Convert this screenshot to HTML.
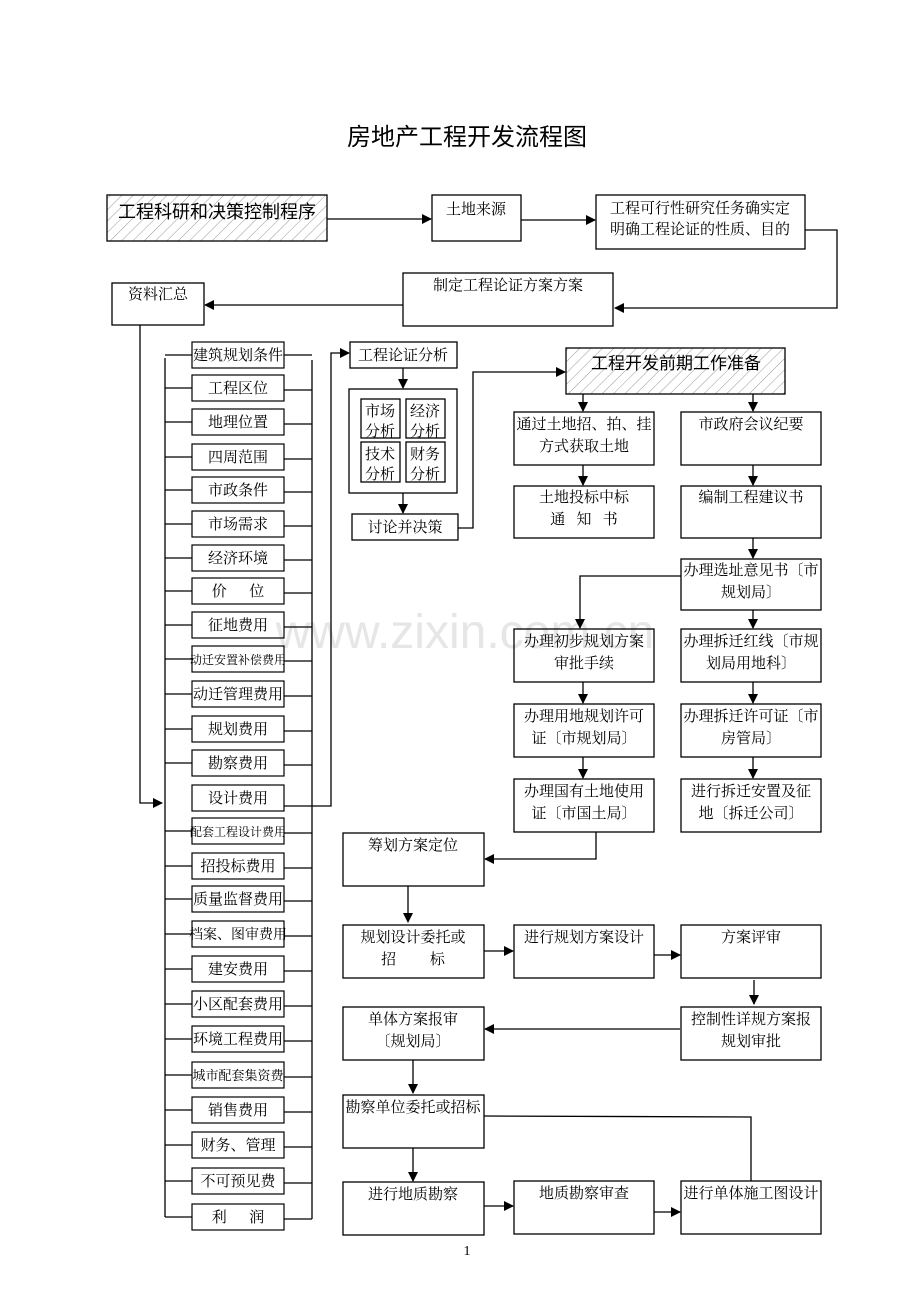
<!DOCTYPE html>
<html><head><meta charset="utf-8"><style>
html,body{margin:0;padding:0;background:#fff;}
svg{display:block;}
text{font-family:"Liberation Serif","Noto Serif CJK SC",serif;font-size:15px;fill:#000;}
</style></head><body>
<svg width="920" height="1302" viewBox="0 0 920 1302" xmlns="http://www.w3.org/2000/svg">
<defs>
<pattern id="h" patternUnits="userSpaceOnUse" width="8" height="8" patternTransform="rotate(45)">
<rect width="8" height="8" fill="#fff"/><line x1="0" y1="0" x2="0" y2="8" stroke="#999" stroke-width="1"/>
</pattern>
<marker id="a" markerWidth="10" markerHeight="10" refX="9" refY="5" orient="auto" markerUnits="userSpaceOnUse">
<path d="M0,0 L10,5 L0,10 Z" fill="#000"/></marker>
</defs>
<text x="467" y="145" text-anchor="middle" style="font-size:24px;font-family:'Liberation Sans','Noto Sans CJK SC',sans-serif">房地产工程开发流程图</text>
<text x="465" y="648" text-anchor="middle" style="font-size:48px;fill:#e6e6e6;font-family:'Liberation Sans',sans-serif">www.zixin.com.cn</text>

<g fill="none" stroke="#000" stroke-width="1.3">
<rect x="107" y="195" width="220" height="46" fill="url(#h)"/>
<rect x="566" y="348" width="219" height="46" fill="url(#h)"/>
<rect x="432" y="195" width="89" height="46"/>
<rect x="596" y="195" width="209" height="54"/>
<rect x="403" y="273" width="210" height="53"/>
<rect x="112" y="283" width="92" height="42"/>
<rect x="350" y="342" width="107" height="26"/>
<rect x="349" y="389" width="108" height="104"/>
<rect x="361" y="399" width="39" height="39"/><rect x="406" y="399" width="39" height="39"/>
<rect x="361" y="442" width="39" height="40"/><rect x="406" y="442" width="39" height="40"/>
<rect x="352" y="514" width="106" height="26"/>
<rect x="514" y="412" width="140" height="53"/><rect x="681" y="412" width="140" height="53"/>
<rect x="514" y="486" width="140" height="52"/><rect x="681" y="486" width="140" height="52"/>
<rect x="681" y="559" width="140" height="51"/>
<rect x="514" y="629" width="140" height="53"/><rect x="681" y="629" width="140" height="53"/>
<rect x="514" y="704" width="140" height="53"/><rect x="681" y="704" width="140" height="53"/>
<rect x="514" y="779" width="140" height="53"/><rect x="681" y="779" width="140" height="53"/>
<rect x="343" y="833" width="141" height="53"/>
<rect x="343" y="925" width="141" height="53"/><rect x="514" y="925" width="140" height="53"/><rect x="681" y="925" width="140" height="53"/>
<rect x="343" y="1007" width="141" height="53"/><rect x="681" y="1007" width="140" height="53"/>
<rect x="343" y="1095" width="141" height="53"/>
<rect x="343" y="1182" width="141" height="53"/><rect x="514" y="1181" width="140" height="53"/><rect x="681" y="1181" width="140" height="53"/>

<!-- connectors -->
<path d="M327,219 H431" marker-end="url(#a)"/>
<path d="M521,220 H595" marker-end="url(#a)"/>
<path d="M805,230 H837 V308 H615" marker-end="url(#a)"/>
<path d="M403,305 H205" marker-end="url(#a)"/>
<path d="M140,325 V803 H162" marker-end="url(#a)"/>
<path d="M165,358 V1217"/>
<path d="M312,360 V1219"/>
<path d="M312,806 H331 V353 H349" marker-end="url(#a)"/>
<path d="M403,368 V388" marker-end="url(#a)"/>
<path d="M403,493 V513" marker-end="url(#a)"/>
<path d="M458,528 H473 V372 H565" marker-end="url(#a)"/>
<path d="M583,394 V411" marker-end="url(#a)"/>
<path d="M753,394 V411" marker-end="url(#a)"/>
<path d="M583,465 V485" marker-end="url(#a)"/>
<path d="M753,465 V485" marker-end="url(#a)"/>
<path d="M753,538 V558" marker-end="url(#a)"/>
<path d="M681,576 H580 V628" marker-end="url(#a)"/>
<path d="M753,610 V628" marker-end="url(#a)"/>
<path d="M583,682 V703" marker-end="url(#a)"/>
<path d="M753,682 V703" marker-end="url(#a)"/>
<path d="M583,757 V778" marker-end="url(#a)"/>
<path d="M753,757 V778" marker-end="url(#a)"/>
<path d="M596,832 V859 H485" marker-end="url(#a)"/>
<path d="M408,886 V922" marker-end="url(#a)"/>
<path d="M484,951 H513" marker-end="url(#a)"/>
<path d="M654,955 H680" marker-end="url(#a)"/>
<path d="M754,980 V1004" marker-end="url(#a)"/>
<path d="M680,1029 H485" marker-end="url(#a)"/>
<path d="M413,1060 V1093" marker-end="url(#a)"/>
<path d="M484,1116 L751,1117 V1181"/>
<path d="M413,1148 V1181" marker-end="url(#a)"/>
<path d="M484,1206 H513" marker-end="url(#a)"/>
<path d="M654,1212 H680" marker-end="url(#a)"/>
</g>

<g stroke="#000" stroke-width="1.2" fill="none">
<path d="M165,355 H192 M284,355 H312"/><rect x="192" y="342" width="92" height="26"/>
<path d="M165,388 H192 M284,390 H312"/><rect x="192" y="375" width="92" height="26"/>
<path d="M165,422 H192 M284,424 H312"/><rect x="192" y="409" width="92" height="26"/>
<path d="M165,457 H192 M284,459 H312"/><rect x="192" y="444" width="92" height="26"/>
<path d="M165,490 H192 M284,492 H312"/><rect x="192" y="477" width="92" height="26"/>
<path d="M165,524 H192 M284,526 H312"/><rect x="192" y="511" width="92" height="26"/>
<path d="M165,558 H192 M284,560 H312"/><rect x="192" y="545" width="92" height="26"/>
<path d="M165,591 H192 M284,593 H312"/><rect x="192" y="578" width="92" height="26"/>
<path d="M165,625 H192 M284,627 H312"/><rect x="192" y="612" width="92" height="26"/>
<path d="M165,659 H192 M284,661 H312"/><rect x="192" y="646" width="92" height="26"/>
<path d="M165,694 H192 M284,696 H312"/><rect x="192" y="681" width="92" height="26"/>
<path d="M165,729 H192 M284,731 H312"/><rect x="192" y="716" width="92" height="26"/>
<path d="M165,763 H192 M284,765 H312"/><rect x="192" y="750" width="92" height="26"/>
<rect x="192" y="785" width="92" height="26"/><path d="M284,806 H312"/>
<path d="M165,831 H192 M284,833 H312"/><rect x="192" y="818" width="92" height="26"/>
<path d="M165,866 H192 M284,868 H312"/><rect x="192" y="853" width="92" height="26"/>
<path d="M165,899 H192 M284,901 H312"/><rect x="192" y="886" width="92" height="26"/>
<path d="M165,934 H192 M284,936 H312"/><rect x="192" y="921" width="92" height="26"/>
<path d="M165,969 H192 M284,971 H312"/><rect x="192" y="956" width="92" height="26"/>
<path d="M165,1004 H192 M284,1006 H312"/><rect x="192" y="991" width="92" height="26"/>
<path d="M165,1039 H192 M284,1041 H312"/><rect x="192" y="1026" width="92" height="26"/>
<path d="M165,1075 H192 M284,1077 H312"/><rect x="192" y="1062" width="92" height="26"/>
<path d="M165,1110 H192 M284,1112 H312"/><rect x="192" y="1097" width="92" height="26"/>
<path d="M165,1145 H192 M284,1147 H312"/><rect x="192" y="1132" width="92" height="26"/>
<path d="M165,1181 H192 M284,1183 H312"/><rect x="192" y="1168" width="92" height="26"/>
<path d="M165,1217 H192 M284,1219 H312"/><rect x="192" y="1204" width="92" height="26"/>
</g>

<g text-anchor="middle">
<text x="238" y="360">建筑规划条件</text>
<text x="238" y="393">工程区位</text>
<text x="238" y="427">地理位置</text>
<text x="238" y="462">四周范围</text>
<text x="238" y="495">市政条件</text>
<text x="238" y="529">市场需求</text>
<text x="238" y="563">经济环境</text>
<text x="238" y="596" xml:space="preserve">价      位</text>
<text x="238" y="630">征地费用</text>
<text x="238" y="664" style="font-size:12px">动迁安置补偿费用</text>
<text x="238" y="699">动迁管理费用</text>
<text x="238" y="734">规划费用</text>
<text x="238" y="768">勘察费用</text>
<text x="238" y="803">设计费用</text>
<text x="238" y="836" style="font-size:12px">配套工程设计费用</text>
<text x="238" y="871">招投标费用</text>
<text x="238" y="904">质量监督费用</text>
<text x="238" y="939" style="font-size:14px">档案、图审费用</text>
<text x="238" y="974">建安费用</text>
<text x="238" y="1009">小区配套费用</text>
<text x="238" y="1044">环境工程费用</text>
<text x="238" y="1080" style="font-size:13px">城市配套集资费</text>
<text x="238" y="1115">销售费用</text>
<text x="238" y="1150">财务、管理</text>
<text x="238" y="1186">不可预见费</text>
<text x="238" y="1222" xml:space="preserve">利      润</text>

<text x="217" y="218" style="font-size:18px;font-family:'Liberation Sans','Noto Sans CJK SC',sans-serif">工程科研和决策控制程序</text>
<text x="676" y="369" style="font-size:17px;font-family:'Liberation Sans','Noto Sans CJK SC',sans-serif">工程开发前期工作准备</text>
<text x="476" y="214">土地来源</text>
<text x="700" y="213">工程可行性研究任务确实定</text>
<text x="700" y="234">明确工程论证的性质、目的</text>
<text x="508" y="290">制定工程论证方案方案</text>
<text x="158" y="299">资料汇总</text>
<text x="403" y="360">工程论证分析</text>
<text x="380" y="416">市场</text><text x="380" y="436">分析</text>
<text x="425" y="416">经济</text><text x="425" y="436">分析</text>
<text x="380" y="459">技术</text><text x="380" y="479">分析</text>
<text x="425" y="459">财务</text><text x="425" y="479">分析</text>
<text x="405" y="532">讨论并决策</text>
<text x="584" y="429">通过土地招、拍、挂</text>
<text x="584" y="451">方式获取土地</text>
<text x="751" y="429">市政府会议纪要</text>
<text x="584" y="502">土地投标中标</text>
<text x="584" y="524" xml:space="preserve">通   知   书</text>
<text x="751" y="502">编制工程建议书</text>
<text x="751" y="575">办理选址意见书〔市</text>
<text x="751" y="597">规划局〕</text>
<text x="584" y="646">办理初步规划方案</text>
<text x="584" y="668">审批手续</text>
<text x="751" y="646">办理拆迁红线〔市规</text>
<text x="751" y="668">划局用地科〕</text>
<text x="584" y="721">办理用地规划许可</text>
<text x="584" y="743">证〔市规划局〕</text>
<text x="751" y="721">办理拆迁许可证〔市</text>
<text x="751" y="743">房管局〕</text>
<text x="584" y="796">办理国有土地使用</text>
<text x="584" y="818">证〔市国土局〕</text>
<text x="751" y="796">进行拆迁安置及征</text>
<text x="751" y="818">地〔拆迁公司〕</text>
<text x="413" y="850">筹划方案定位</text>
<text x="413" y="942">规划设计委托或</text>
<text x="413" y="964" xml:space="preserve">招         标</text>
<text x="584" y="942">进行规划方案设计</text>
<text x="751" y="942">方案评审</text>
<text x="413" y="1024">单体方案报审</text>
<text x="413" y="1046">〔规划局〕</text>
<text x="751" y="1024">控制性详规方案报</text>
<text x="751" y="1046">规划审批</text>
<text x="413" y="1112">勘察单位委托或招标</text>
<text x="413" y="1199">进行地质勘察</text>
<text x="584" y="1198">地质勘察审查</text>
<text x="751" y="1198">进行单体施工图设计</text>
<text x="467" y="1255" style="font-size:14px">1</text>
</g>
</svg>
</body></html>
